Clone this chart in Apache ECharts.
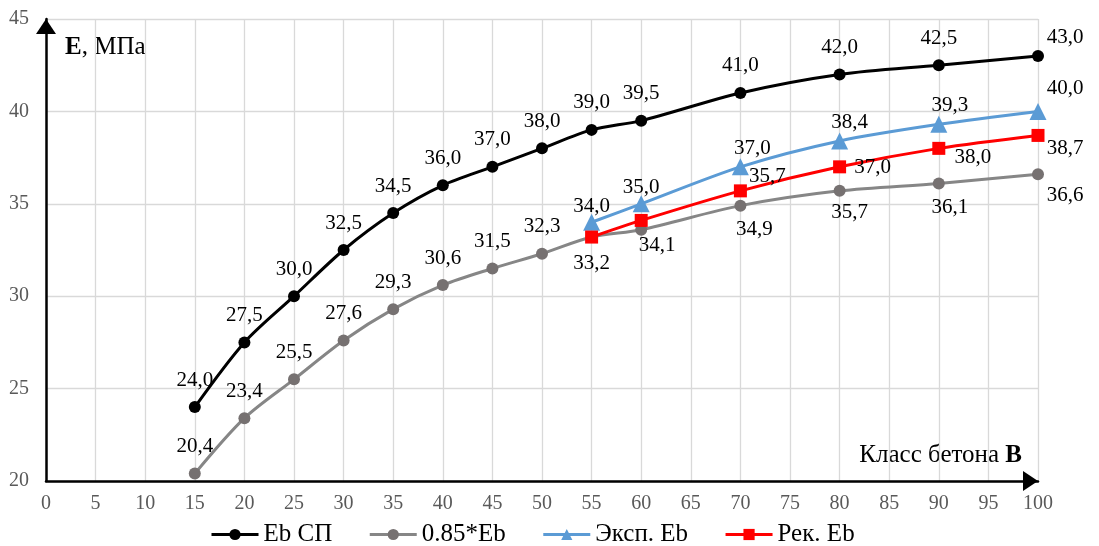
<!DOCTYPE html>
<html>
<head>
<meta charset="utf-8">
<script src="https://cdn.jsdelivr.net/npm/echarts@6/dist/echarts.min.js"></script>
<style>html,body{margin:0;padding:0;background:#fff}#c{width:1099px;height:546px}</style>
</head>
<body>
<div id="c"></div>
<script>
// ---- data ----
const xMain = [15, 20, 25, 30, 35, 40, 45, 50, 55, 60, 70, 80, 90, 100];
const ebSP = [24.0, 27.5, 30.0, 32.5, 34.5, 36.0, 37.0, 38.0, 39.0, 39.5, 41.0, 42.0, 42.5, 43.0];
const eb085 = [20.4, 23.4, 25.5, 27.6, 29.3, 30.6, 31.5, 32.3, 33.2, 33.6, 34.9, 35.7, 36.1, 36.6];
const xExp = [55, 60, 70, 80, 90, 100];
const ebExp = [34.0, 35.0, 37.0, 38.4, 39.3, 40.0];
const ebRec = [33.2, 34.1, 35.7, 37.0, 38.0, 38.7];
const seriesNames = ['Eb СП', '0.85*Eb', 'Эксп. Eb', 'Рек. Eb'];

// ---- label placement (style config) ----
const offEb = xMain.map((x, i) => i === xMain.length - 1 ? [27, -18] : [0, -27]);
const offGray = [[0,-27],[0,-27],[0,-27],[0,-27],[0,-27],[0,-27],[0,-27],[0,-27],[0,26],null,[14,24],[10,22],[11,24],[27,21]];
const offExp = [[0,-16],[0,-16],[12,-18],[10,-18],[11,-19],[27,-23]];
const offRec = [null,[16,25],[27,-14],[33,1],[34,9],[27,13]];

const FONT = '"Liberation Serif", "Times New Roman", serif';
const fmt = v => v.toFixed(1).replace('.', ',');

function build(xs, ys, offs) {
  return xs.map((x, i) => {
    const o = offs[i];
    return {
      value: [x, ys[i]],
      label: o ? { show: true, position: 'inside', offset: o } : { show: false }
    };
  });
}

const chart = echarts.init(document.getElementById('c'), null, { renderer: 'canvas' });
const lbl = {
  show: true, position: 'inside', color: '#000', fontFamily: FONT, fontSize: 21,
  formatter: p => fmt(p.value[1])
};
chart.setOption({
  animation: false,
  backgroundColor: '#fff',
  textStyle: { fontFamily: FONT },
  grid: { left: 46, right: 61, top: 19, bottom: 65, containLabel: false },
  xAxis: {
    type: 'value', min: 0, max: 100, interval: 5,
    axisLine: { show: true, lineStyle: { color: '#000', width: 2.5 }, symbol: ['none', 'triangle'], symbolSize: [20, 15], symbolOffset: [0, -7.5] },
    axisTick: { show: false },
    axisLabel: { color: '#595959', fontFamily: FONT, fontSize: 20, margin: 13 },
    splitLine: { show: true, lineStyle: { color: '#d9d9d9', width: 1.3 } }
  },
  yAxis: {
    type: 'value', min: 20, max: 45, interval: 5,
    axisLine: { show: true, lineStyle: { color: '#000', width: 2.5 }, symbol: ['none', 'triangle'], symbolSize: [20, 15], symbolOffset: [0, -7.5] },
    axisTick: { show: false },
    axisLabel: { color: '#595959', fontFamily: FONT, fontSize: 20, margin: 17 },
    splitLine: { show: true, lineStyle: { color: '#d9d9d9', width: 1.3 } }
  },
  legend: {
    left: 205, top: 517,
    itemWidth: 47, itemHeight: 14, itemGap: 36,
    lineStyle: { width: 3 },
    textStyle: { color: '#000', fontFamily: FONT, fontSize: 25 },
    data: seriesNames
  },
  graphic: [
    { type: 'text', left: 65, top: 35, style: {
      text: '{b|E}, МПа', fill: '#000', font: '25px ' + FONT,
      rich: { b: { fontWeight: 'bold', fontSize: 25, fontFamily: FONT, fill: '#000' } } } },
    { type: 'text', right: 1099 - 1022, top: 443, style: {
      text: 'Класс бетона {b|В}', fill: '#000', font: '25px ' + FONT,
      rich: { b: { fontWeight: 'bold', fontSize: 25, fontFamily: FONT, fill: '#000' } } } }
  ],
  series: [
    { name: seriesNames[0], type: 'line', smooth: 0.3, data: build(xMain, ebSP, offEb),
      symbol: 'circle', symbolSize: 12, lineStyle: { color: '#000', width: 3 },
      itemStyle: { color: '#000' }, label: lbl, z: 2 },
    { name: seriesNames[1], type: 'line', smooth: 0.3, data: build(xMain, eb085, offGray),
      symbol: 'circle', symbolSize: 12, lineStyle: { color: '#868686', width: 3 },
      itemStyle: { color: '#767171' }, label: lbl, z: 3 },
    { name: seriesNames[2], type: 'line', smooth: 0.3, data: build(xExp, ebExp, offExp),
      symbol: 'triangle', symbolSize: 17, lineStyle: { color: '#5b9bd5', width: 3 },
      itemStyle: { color: '#5b9bd5' }, label: lbl, z: 4 },
    { name: seriesNames[3], type: 'line', smooth: 0.3, data: build(xExp, ebRec, offRec),
      symbol: 'rect', symbolSize: 13, lineStyle: { color: '#ff0000', width: 3 },
      itemStyle: { color: '#ff0000' }, label: lbl, z: 5 }
  ]
});
</script>
</body>
</html>
